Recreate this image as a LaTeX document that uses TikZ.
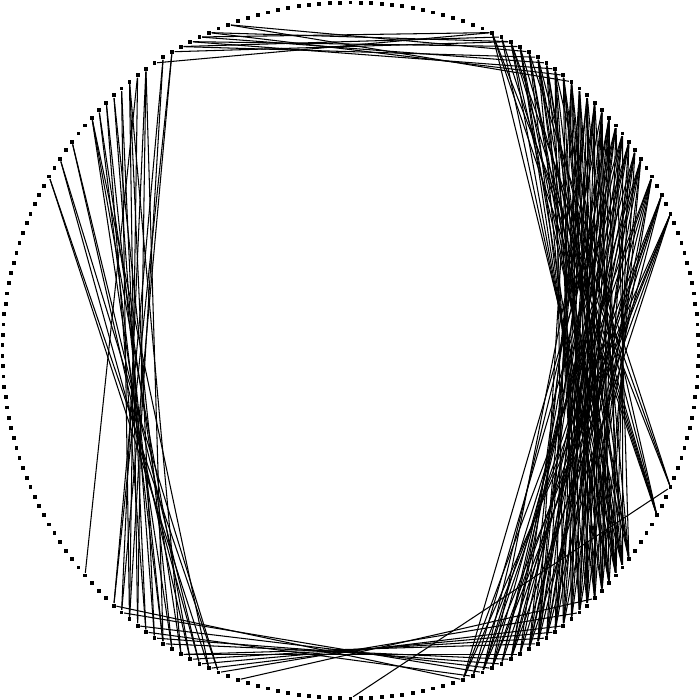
\documentclass[tikz,border=0pt]{standalone}
\begin{document}
\begin{tikzpicture}[
	% Style for the small square vertices on the circle
	vertex/.style={
		rectangle,
		fill=black,
		inner sep=0pt,
		minimum size=1.1pt
	},
	% Style for the thin connecting chords
	chord/.style={
		draw=black,
		line width=0.3pt
	}
	]
	\useasboundingbox (0,0) rectangle (7,7);
	
	% ================= NODES =================
	% v0 on top, numbering runs anticlockwise (210 vertices, 12/7 degrees apart)
	\begin{scope}[shift={(3.505,3.495)}]
		\foreach \k in {0,...,209}
			\node[vertex] (v\k) at ({90+\k*12/7}:3.48) {};
	\end{scope}
	
	% ================= CHORDS =================
	% right side, upper to lower
	\foreach \a/\b in {171/116, 171/118, 171/119, 171/121, 171/123,
		173/117, 173/119, 173/120, 173/122, 173/125,
		175/116, 175/118, 175/121, 175/124, 175/127, 175/129,
		177/118, 177/121, 177/123, 177/126, 177/130, 177/132,
		178/119, 178/123, 178/125, 178/128, 178/133,
		179/117, 179/120, 179/122, 179/125, 179/131, 179/134,
		180/116, 180/120, 180/124, 180/127, 180/129, 180/135,
		181/118, 181/121, 181/124, 181/126, 181/132, 181/136,
		182/121, 182/123, 182/126, 182/128, 182/130, 182/132, 182/134,
		183/119, 183/125, 183/127, 183/129, 183/131, 183/133,
		184/122, 184/124, 184/126, 184/129, 184/131, 184/135,
		185/123, 185/124, 185/128, 185/130, 185/132, 185/136,
		186/125, 186/127, 186/128, 186/130, 186/132, 186/134,
		187/124, 187/126, 187/129, 187/131, 187/133, 187/135,
		188/128, 188/130, 188/133, 188/134, 188/136,
		189/127, 189/129, 189/131, 189/134, 189/141,
		190/129, 190/132, 190/135, 190/136,
		191/130, 191/133, 191/134, 191/136, 191/141,
		192/131, 192/134, 192/135, 192/144,
		193/132, 193/133, 193/135, 193/141,
		194/133, 194/136, 194/141, 194/144,
		195/134, 195/141,
		196/135, 196/141, 196/144}
		\draw[chord] (v\a) -- (v\b);
	
	% top
	\foreach \a/\b in {12/192, 12/187, 14/194, 14/188, 15/196, 15/190,
		16/193, 16/189, 17/195, 17/191, 18/194, 20/196}
		\draw[chord] (v\a) -- (v\b);
	
	% bottom
	\foreach \a/\b in {80/116, 81/118, 83/119, 84/117, 85/120, 86/121,
		88/122, 88/124, 89/125, 90/126, 91/127, 92/129, 94/131, 105/144}
		\draw[chord] (v\a) -- (v\b);
	
	% left side, upper to lower
	\foreach \a/\b in {35/92, 35/91, 33/90, 33/92, 31/90, 31/89,
		28/89, 28/87, 28/91, 27/88, 27/86, 26/86, 26/84,
		25/85, 25/87, 24/84, 24/82, 23/83, 23/85, 23/88,
		22/82, 22/76, 21/81, 21/83, 21/86, 19/80, 19/82,
		18/80, 18/81}
		\draw[chord] (v\a) -- (v\b);
	
\end{tikzpicture}
\end{document}
